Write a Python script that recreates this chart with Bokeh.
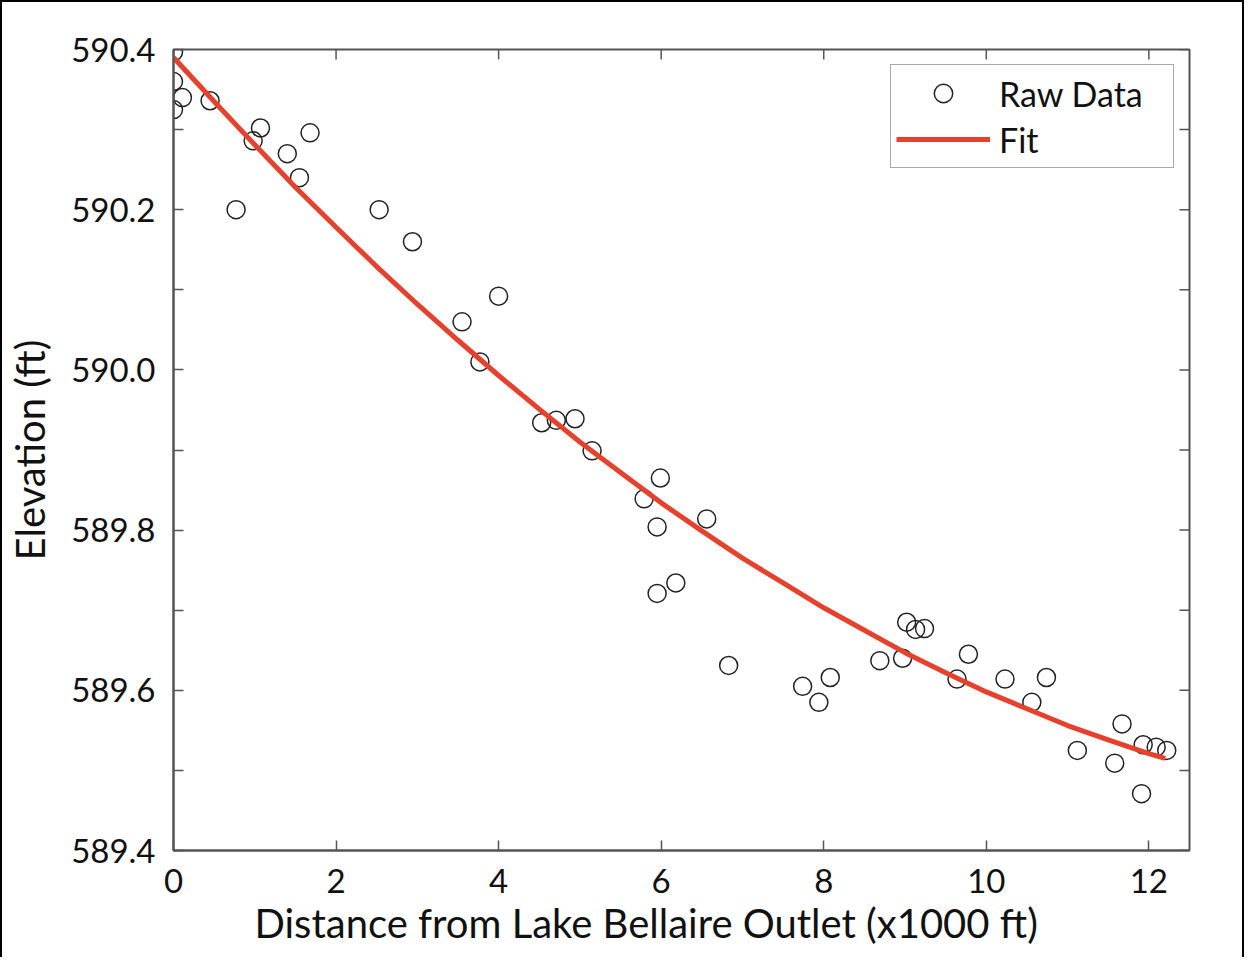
import math
from bokeh.plotting import figure
from bokeh.models import (LinearAxis, FixedTicker, Range1d, Legend, LegendItem,
                          PrintfTickFormatter, Title)
from bokeh.embed import file_html
from bokeh.resources import INLINE

# Raw data (x in thousands of ft, elevation in ft)
raw_x = [0.0, 0.0, 0.11, 0.0, 0.45, 0.77, 0.98, 1.07, 1.40, 1.55, 1.68, 2.53, 2.94,
         3.55, 4.0, 3.77, 4.53, 4.71, 4.94, 5.15, 5.79, 5.99, 5.95, 6.56, 5.95, 6.18,
         6.83, 7.74, 8.08, 7.94, 8.69, 8.97, 9.02, 9.13, 9.24, 9.64, 9.78, 10.23,
         10.56, 10.74, 11.12, 11.58, 11.67, 11.91, 11.93, 12.09, 12.22]
raw_y = [590.397, 590.360, 590.340, 590.325, 590.336, 590.200, 590.286, 590.302,
         590.270, 590.240, 590.296, 590.200, 590.160, 590.060, 590.092, 590.010,
         589.934, 589.937, 589.939, 589.899, 589.839, 589.865, 589.804, 589.814,
         589.721, 589.734, 589.631, 589.605, 589.616, 589.585, 589.637, 589.640,
         589.685, 589.676, 589.677, 589.614, 589.645, 589.614, 589.585, 589.616,
         589.525, 589.509, 589.558, 589.471, 589.532, 589.529, 589.525]

# Fit curve
fit_x = [0.0, 0.5, 1.0, 1.5, 2.0, 2.5, 3.0, 3.5, 4.0, 4.5, 5.0, 5.5, 6.0, 6.5, 7.0,
         7.5, 8.0, 8.5, 9.0, 9.5, 10.0, 10.5, 11.0, 11.5, 12.0, 12.2]
fit_y = [590.390, 590.335, 590.281, 590.228, 590.178, 590.129, 590.082, 590.037,
         589.993, 589.951, 589.910, 589.872, 589.834, 589.799, 589.765, 589.734,
         589.703, 589.675, 589.647, 589.622, 589.598, 589.577, 589.556, 589.538,
         589.521, 589.515]

x_ticks = [0, 2, 4, 6, 8, 10, 12]
y_ticks = [589.4, 589.6, 589.8, 590.0, 590.2, 590.4]
y_minor = [589.5, 589.7, 589.9, 590.1, 590.3]
x_min, x_max = 0, 12.5
y_min, y_max = 589.4, 590.4
x_title = "Distance from Lake Bellaire Outlet (x1000 ft)"
y_title = "Elevation (ft)"

FONT = "Lato"
AX = "#555555"
TXT = "#111111"

p = figure(frame_width=1016, frame_height=801,
           min_border_left=171, min_border_top=47, min_border_right=53, min_border_bottom=107,
           x_range=Range1d(x_min, x_max), y_range=Range1d(y_min, y_max),
           output_backend="svg", toolbar_location=None, x_axis_type=None, y_axis_type=None)
p.xgrid.visible = False
p.ygrid.visible = False
p.outline_line_color = AX
p.outline_line_width = 2
p.styles = {"border": "2px solid black", "border-bottom": "none", "margin-bottom": "-8px"}

def style_axis(ax):
    ax.axis_line_color = AX
    ax.axis_line_width = 2
    ax.major_tick_in = 10
    ax.major_tick_out = 0
    ax.minor_tick_in = 10
    ax.minor_tick_out = 0
    ax.major_tick_line_color = AX
    ax.minor_tick_line_color = AX
    ax.major_tick_line_width = 1.5
    ax.minor_tick_line_width = 1.5
    ax.major_label_text_font = FONT
    ax.major_label_text_color = TXT
    ax.major_label_text_font_size = "33px"
    ax.axis_label_text_font = FONT
    ax.axis_label_text_font_style = "normal"
    ax.axis_label_text_font_size = "40px"
    ax.axis_label_text_color = TXT

xb = LinearAxis(ticker=FixedTicker(ticks=x_ticks))
style_axis(xb)
xb.major_label_standoff = 18
p.add_layout(xb, "below")

# x axis title, sitting slightly left of centre as in the original
p.add_layout(Title(text=x_title, align="left", offset=81, standoff=3,
                   text_font=FONT, text_font_size="40px", text_font_style="normal",
                   text_color=TXT), "below")

yl = LinearAxis(ticker=FixedTicker(ticks=y_ticks, minor_ticks=y_minor), axis_label=y_title,
                formatter=PrintfTickFormatter(format="%.1f"))
style_axis(yl)
yl.major_label_standoff = 18
yl.axis_label_standoff = 14
p.add_layout(yl, "left")

# inward ticks on the top and right frame edges (half of each dash is clipped by the frame)
p.scatter(x_ticks, [y_max] * len(x_ticks), marker="dash", size=20, angle=math.pi / 2,
          line_color=AX, line_width=1.5)
p.scatter([x_max] * (len(y_ticks) + len(y_minor)), y_ticks + y_minor, marker="dash", size=20,
          line_color=AX, line_width=1.5)

r_raw = p.scatter(raw_x, raw_y, marker="circle", size=18, fill_color=None,
                  line_color="#222222", line_width=1.5)
r_fit = p.line(fit_x, fit_y, line_color="#E5412D", line_width=5)

legend = Legend(items=[LegendItem(label="Raw Data", renderers=[r_raw]),
                       LegendItem(label="Fit", renderers=[r_fit])],
                location="top_right")
legend.label_text_font = FONT
legend.label_text_font_size = "34px"
legend.label_text_color = TXT
legend.border_line_color = AX
legend.border_line_width = 1.5
legend.glyph_width = 94
legend.glyph_height = 46
legend.label_height = 46
legend.label_width = 169
legend.spacing = 0
legend.padding = 5
legend.margin = 15
legend.label_standoff = 9
legend.background_fill_alpha = 1
p.add_layout(legend)

open("out.html", "w").write(file_html(p, INLINE))
